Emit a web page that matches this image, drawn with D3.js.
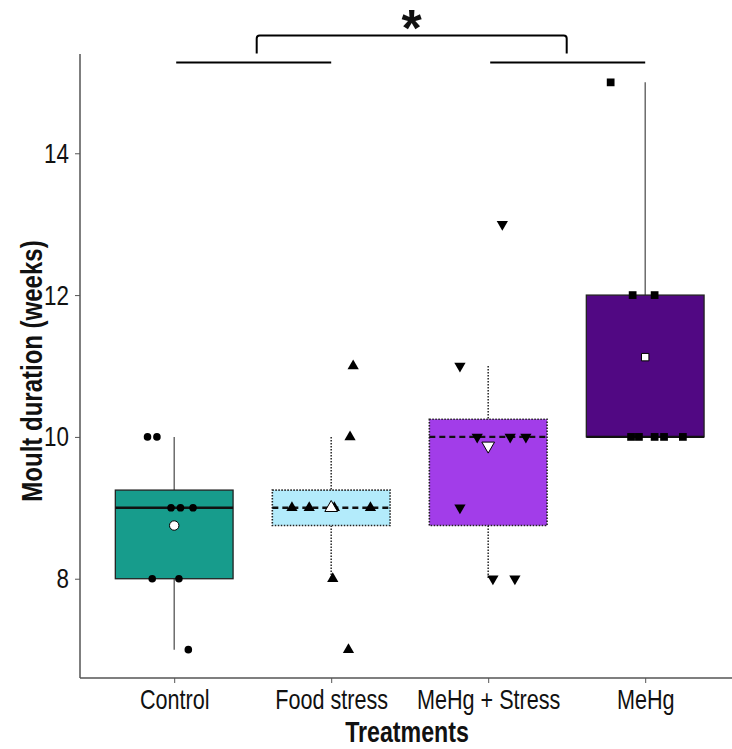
<!DOCTYPE html>
<html>
<head>
<meta charset="utf-8">
<script src="https://cdn.jsdelivr.net/npm/d3@7"></script>
<style>
  body { margin: 0; background: #fff; }
  svg { display: block; }
  text { font-family: "Liberation Sans", Arial, sans-serif; fill: #111; }
</style>
</head>
<body>
<svg width="732" height="749"></svg>
<script>
var groups = ["Control", "Food stress", "MeHg + Stress", "MeHg"];

// moult duration (weeks) per bird
var controlVals = [10, 10, 9, 9, 9, 8, 8, 7];
var foodVals = [11, 10, 9, 9, 9, 9, 8, 7];
var mehgStressVals = [13, 11, 10, 10, 10, 9, 8, 8];
var mehgVals = [15, 12, 12, 10, 10, 10, 10, 10];

// horizontal jitter of each point, as a share of the group spacing
var controlJit = [-0.17, -0.11, -0.02, 0.04, 0.12, -0.14, 0.03, 0.09];
var foodJit = [0.14, 0.12, -0.25, -0.14, 0.02, 0.25, 0.01, 0.11];
var mehgStressJit = [0.09, -0.18, -0.07, 0.14, 0.24, -0.18, 0.03, 0.17];
var mehgJit = [-0.22, -0.08, 0.06, -0.09, -0.04, 0.06, 0.12, 0.24];

var fills = ["#179c8c", "#b3ebfb", "#a23de9", "#510883"];
var yTicks = [8, 10, 12, 14];

var values = [controlVals, foodVals, mehgStressVals, mehgVals],
    jitters = [controlJit, foodJit, mehgStressJit, mehgJit],
    dotted = [false, true, true, false],
    shapes = [d3.symbolCircle, d3.symbolTriangle, d3.symbolTriangle, d3.symbolSquare],
    flip = [false, false, true, false];

var svg = d3.select("svg"),
    plotLeft = 80, plotBottom = 678, plotTop = 54,
    narrow = 0.8;

var x = d3.scalePoint()
    .domain(groups)
    .range([plotLeft, plotLeft + 157 * 4.2])
    .padding(0.6);
var step = x.step();

var y = d3.scaleLinear()
    .domain([6.6, 15.4])
    .range([plotBottom, plotTop]);

// box stats like ggplot (type 7 quantiles, 1.5 IQR whiskers)
var stats = values.map(function(v, i) {
    var s = v.slice().sort(d3.ascending),
        q1 = d3.quantile(s, 0.25),
        med = d3.quantile(s, 0.5),
        q3 = d3.quantile(s, 0.75),
        iqr = q3 - q1,
        lo = d3.min(s.filter(function(d) { return d >= q1 - 1.5 * iqr; })),
        hi = d3.max(s.filter(function(d) { return d <= q3 + 1.5 * iqr; }));
    return { g: groups[i], q1: q1, med: med, q3: q3, lo: lo, hi: hi, mean: d3.mean(s), i: i };
});

var boxW = step * 0.75;

var box = svg.append("g").selectAll("g")
    .data(stats)
    .enter().append("g");

function whisker(sel, from, to) {
    sel.append("line")
        .attr("x1", function(d) { return x(d.g); })
        .attr("x2", function(d) { return x(d.g); })
        .attr("y1", function(d) { return y(d[from]); })
        .attr("y2", function(d) { return y(d[to]); })
        .attr("stroke", function(d) { return dotted[d.i] ? "#333" : "#555"; })
        .attr("stroke-width", function(d) { return dotted[d.i] ? 1.6 : 1.3; })
        .attr("stroke-dasharray", function(d) { return dotted[d.i] ? "1.5,1.5" : null; });
}
whisker(box, "hi", "q3");
whisker(box, "q1", "lo");

box.append("rect")
    .attr("x", function(d) { return x(d.g) - boxW / 2; })
    .attr("width", boxW)
    .attr("y", function(d) { return y(d.q3); })
    .attr("height", function(d) { return y(d.q1) - y(d.q3); })
    .attr("fill", function(d) { return fills[d.i]; })
    .attr("stroke", "#222")
    .attr("stroke-width", function(d) { return dotted[d.i] ? 1.6 : 1.3; })
    .attr("stroke-dasharray", function(d) { return dotted[d.i] ? "1.5,1.5" : null; });

// median
box.append("line")
    .attr("x1", function(d) { return x(d.g) - boxW / 2; })
    .attr("x2", function(d) { return x(d.g) + boxW / 2; })
    .attr("y1", function(d) { return y(d.med); })
    .attr("y2", function(d) { return y(d.med); })
    .attr("stroke", "#111")
    .attr("stroke-width", 2.4)
    .attr("stroke-dasharray", function(d) { return dotted[d.i] ? "6,4" : null; });

// raw points
var pts = [];
values.forEach(function(v, i) {
    v.forEach(function(d, j) {
        pts.push({ i: i, v: d, jx: jitters[i][j] });
    });
});

function sym(i, size) {
    return d3.symbol().type(shapes[i]).size(size)();
}

svg.append("g").selectAll("path")
    .data(pts)
    .enter().append("path")
    .attr("d", function(d) { return sym(d.i, d.i == 3 ? 60 : (d.i == 0 ? 45 : 55)); })
    .attr("transform", function(d) {
        return "translate(" + (x(groups[d.i]) + d.jx * step) + "," + y(d.v) + ")" + (flip[d.i] ? " rotate(180)" : "");
    })
    .attr("fill", "#000");

// means
svg.append("g").selectAll("path")
    .data(stats)
    .enter().append("path")
    .attr("d", function(d) { return sym(d.i, d.i == 3 ? 55 : 70); })
    .attr("transform", function(d) {
        return "translate(" + x(d.g) + "," + y(d.mean) + ")" + (flip[d.i] ? " rotate(180)" : "");
    })
    .attr("fill", "#fff")
    .attr("stroke", "#000")
    .attr("stroke-width", 1);

// axes
var yAxis = svg.append("g")
    .attr("transform", "translate(" + plotLeft + ",0)")
    .call(d3.axisLeft(y).tickValues(yTicks).tickSize(5).tickPadding(5));
yAxis.select(".domain").attr("stroke", "#555").attr("stroke-width", 1.5).attr("d", "M0," + plotTop + "V" + plotBottom);
yAxis.selectAll(".tick line").attr("stroke", "#555");
yAxis.selectAll(".tick text")
    .attr("x", -11 / narrow)
    .attr("transform", "scale(" + narrow + ",1)")
    .style("font-family", "'Liberation Sans', Arial, sans-serif")
    .style("font-size", "28px");

var xAxis = svg.append("g")
    .attr("transform", "translate(0," + plotBottom + ")")
    .call(d3.axisBottom(x).tickSize(5).tickPadding(7));
xAxis.select(".domain").attr("stroke", "#555").attr("stroke-width", 1.5).attr("d", "M" + plotLeft + ",0H732");
xAxis.selectAll(".tick line").attr("stroke", "#555");
xAxis.selectAll(".tick text")
    .attr("transform", "scale(" + narrow + ",1)")
    .style("font-family", "'Liberation Sans', Arial, sans-serif")
    .style("font-size", "27px");

svg.append("text")
    .attr("transform", "translate(42," + 371 + ") rotate(-90) scale(" + narrow + ",1)")
    .attr("text-anchor", "middle")
    .style("font-weight", "bold")
    .style("font-size", "30px")
    .text("Moult duration (weeks)");

svg.append("text")
    .attr("transform", "translate(407,742) scale(" + narrow + ",1)")
    .attr("text-anchor", "middle")
    .style("font-weight", "bold")
    .style("font-size", "29px")
    .text("Treatments");

// significance bracket
var pairs = [[groups[0], groups[1]], [groups[2], groups[3]]],
    lowY = y(15.28), highY = y(15.66);
svg.append("g").selectAll("line")
    .data(pairs)
    .enter().append("line")
    .attr("x1", function(d) { return x(d[0]) + 2; })
    .attr("x2", function(d) { return x(d[1]); })
    .attr("y1", lowY).attr("y2", lowY)
    .attr("stroke", "#000").attr("stroke-width", 2);

var m1 = (x(groups[0]) + x(groups[1])) / 2 + 4,
    m2 = (x(groups[2]) + x(groups[3])) / 2;
svg.append("path")
    .attr("d", "M" + m1 + "," + (lowY - 9) + "V" + (highY + 3) + "Q" + m1 + "," + highY + " " + (m1 + 3) + "," + highY +
        "H" + (m2 - 3) + "Q" + m2 + "," + highY + " " + m2 + "," + (highY + 3) + "V" + (lowY - 9))
    .attr("fill", "none")
    .attr("stroke", "#000")
    .attr("stroke-width", 2);

svg.append("text")
    .attr("x", (m1 + m2) / 2)
    .attr("y", 46)
    .attr("text-anchor", "middle")
    .style("font-weight", "bold")
    .style("font-size", "52px")
    .text("*");
</script>
</body>
</html>
